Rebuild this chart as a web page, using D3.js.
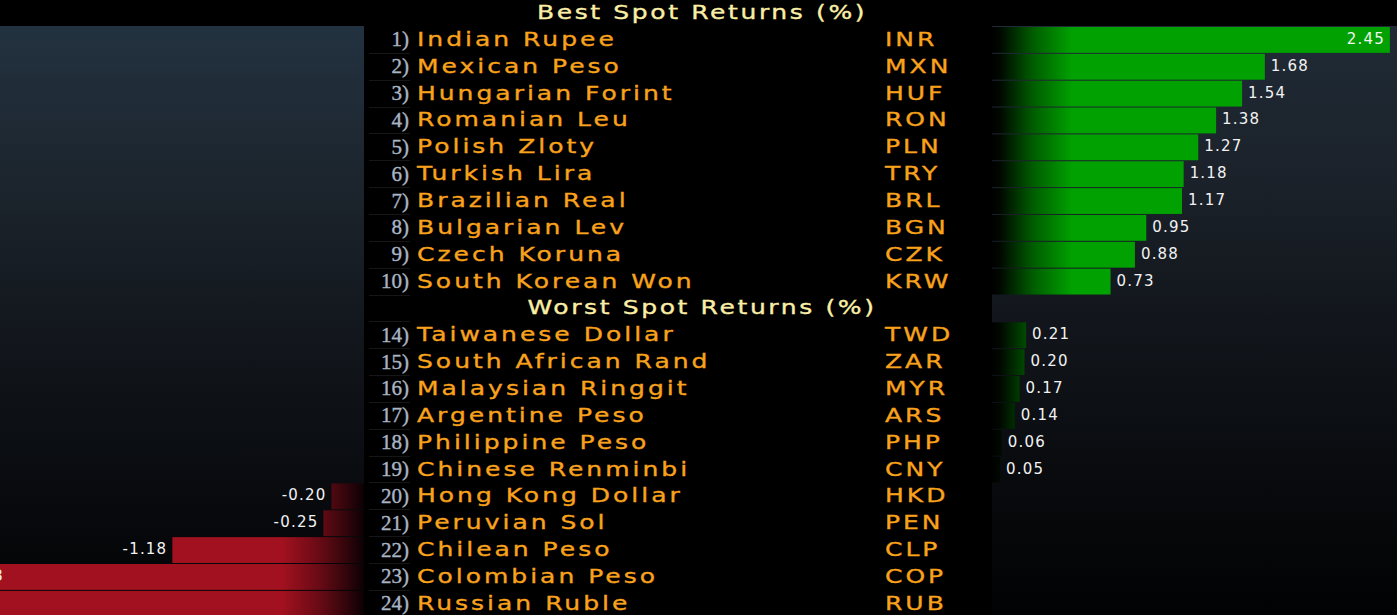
<!DOCTYPE html>
<html>
<head>
<meta charset="utf-8">
<script src="https://cdn.jsdelivr.net/npm/d3@7"></script>
<style>
  html, body { margin: 0; padding: 0; background: #000; }
  svg { display: block; }
</style>
</head>
<body>
<svg id="chart" width="1397" height="615"></svg>
<script>
// ---- data ----
const bestTitle = "Best Spot Returns (%)";
const worstTitle = "Worst Spot Returns (%)";
const bestRanks = [1, 2, 3, 4, 5, 6, 7, 8, 9, 10];
const bestNames = ["Indian Rupee", "Mexican Peso", "Hungarian Forint", "Romanian Leu", "Polish Zloty",
  "Turkish Lira", "Brazilian Real", "Bulgarian Lev", "Czech Koruna", "South Korean Won"];
const bestCodes = ["INR", "MXN", "HUF", "RON", "PLN", "TRY", "BRL", "BGN", "CZK", "KRW"];
const bestValues = [2.45, 1.68, 1.54, 1.38, 1.27, 1.18, 1.17, 0.95, 0.88, 0.73];

const worstRanks = [14, 15, 16, 17, 18, 19, 20, 21, 22, 23, 24];
const worstNames = ["Taiwanese Dollar", "South African Rand", "Malaysian Ringgit", "Argentine Peso",
  "Philippine Peso", "Chinese Renminbi", "Hong Kong Dollar", "Peruvian Sol", "Chilean Peso",
  "Colombian Peso", "Russian Ruble"];
const worstCodes = ["TWD", "ZAR", "MYR", "ARS", "PHP", "CNY", "HKD", "PEN", "CLP", "COP", "RUB"];
const worstValues = [0.21, 0.20, 0.17, 0.14, 0.06, 0.05, -0.20, -0.25, -1.18, -2.53, -3.21];

// ---- build rows ----
const rows = [];
rows.push({ key: "h-best", header: bestTitle });
bestRanks.forEach((r, i) => rows.push({ key: "b" + i, rank: r, name: bestNames[i], code: bestCodes[i], value: bestValues[i] }));
rows.push({ key: "h-worst", header: worstTitle });
worstRanks.forEach((r, i) => rows.push({ key: "w" + i, rank: r, name: worstNames[i], code: worstCodes[i], value: worstValues[i] }));

const W = 1397, H = 615;
const top0 = 26, pitch = 26.85;
const listRows = rows.slice(1);
const SX = 1.25; // horizontal stretch of the wide terminal-like font

const svg = d3.select("#chart");

const y = d3.scaleBand()
  .domain(listRows.map(d => d.key))
  .range([top0, top0 + pitch * listRows.length])
  .padding(0);

const leftZero = 364, rightZero = 992;
const mag = d3.scaleLinear().domain([0, 2.5]).range([0, 406]);
const xR = v => rightZero + mag(v);
const xL = v => leftZero - mag(-v);

// ---- defs ----
const defs = svg.append("defs");
const pg = defs.append("linearGradient").attr("id", "panelGrad")
  .attr("gradientUnits", "userSpaceOnUse").attr("x1", 0).attr("x2", 0).attr("y1", top0).attr("y2", H);
[[0, "#233240"], [0.3, "#1b232b"], [0.5, "#13181e"], [0.78, "#090b0f"], [1, "#010203"]]
  .forEach(s => pg.append("stop").attr("offset", s[0]).attr("stop-color", s[1]));
const pg2 = defs.append("linearGradient").attr("id", "panelGrad2")
  .attr("gradientUnits", "userSpaceOnUse").attr("x1", 0).attr("x2", 0).attr("y1", top0).attr("y2", H);
[[0, "#202b36"], [0.3, "#1a2028"], [0.5, "#12161c"], [0.78, "#080a0d"], [1, "#010203"]]
  .forEach(s => pg2.append("stop").attr("offset", s[0]).attr("stop-color", s[1]));

const gg = defs.append("linearGradient").attr("id", "greenGrad")
  .attr("gradientUnits", "userSpaceOnUse").attr("x1", rightZero).attr("x2", rightZero + 80).attr("y1", 0).attr("y2", 0);
[[0, "#000000"], [0.1, "#000800"], [0.5, "#005a00"], [1, "#00a100"]]
  .forEach(s => gg.append("stop").attr("offset", s[0]).attr("stop-color", s[1]));
const rg = defs.append("linearGradient").attr("id", "redGrad")
  .attr("gradientUnits", "userSpaceOnUse").attr("x1", leftZero).attr("x2", leftZero - 82).attr("y1", 0).attr("y2", 0);
[[0, "#0a0104"], [0.15, "#260409"], [0.5, "#620a14"], [1, "#a2111f"]]
  .forEach(s => rg.append("stop").attr("offset", s[0]).attr("stop-color", s[1]));

// ---- background ----
svg.append("rect").attr("width", W).attr("height", H).attr("fill", "#000");
svg.append("rect").attr("x", 0).attr("y", top0).attr("width", leftZero).attr("height", H - top0).attr("fill", "url(#panelGrad)");
svg.append("rect").attr("x", rightZero).attr("y", top0).attr("width", W - rightZero).attr("height", H - top0).attr("fill", "url(#panelGrad2)");

// faint separators in number column
svg.append("g").selectAll("line").data(listRows.slice(1)).join("line")
  .attr("x1", 369).attr("x2", 410)
  .attr("y1", d => Math.round(y(d.key)) + 0.5).attr("y2", d => Math.round(y(d.key)) + 0.5)
  .attr("stroke", "#161616").attr("stroke-width", 1);

const dataRows = listRows.filter(d => !d.header);
const pos = dataRows.filter(d => d.value > 0);
const neg = dataRows.filter(d => d.value < 0);

// bars
svg.append("g").selectAll("rect").data(pos).join("rect")
  .attr("x", rightZero)
  .attr("y", d => y(d.key) + 1)
  .attr("width", d => xR(d.value) - rightZero)
  .attr("height", y.bandwidth() - 1)
  .attr("fill", "url(#greenGrad)");
svg.append("g").selectAll("rect").data(neg).join("rect")
  .attr("x", d => xL(d.value))
  .attr("y", d => y(d.key) + 1)
  .attr("width", d => leftZero - xL(d.value))
  .attr("height", y.bandwidth() - 1)
  .attr("fill", "url(#redGrad)");

// value labels
const fmt = v => (v < 0 ? "-" : "") + Math.abs(v).toFixed(2);
const approxW = s => s.length * 9.6;
const valAttrs = sel => sel.attr("font-family", "DejaVu Sans").attr("font-size", 15)
  .attr("letter-spacing", 1.2).attr("fill", "#f2f2f2");
svg.append("g").selectAll("text").data(pos).join("text")
  .call(valAttrs)
  .attr("y", d => y(d.key) + y.bandwidth() / 2 + 4.5)
  .each(function (d) {
    const t = fmt(d.value);
    const end = xR(d.value);
    const inside = end + 6 + approxW(t) > W;
    d3.select(this).text(t)
      .attr("x", inside ? end - 5 : end + 6)
      .attr("text-anchor", inside ? "end" : "start");
  });
svg.append("g").selectAll("text").data(neg).join("text")
  .call(valAttrs)
  .attr("y", d => y(d.key) + y.bandwidth() / 2 + 4.5)
  .each(function (d) {
    const t = fmt(d.value);
    const start = xL(d.value);
    const inside = start - 6 - 48 < 0;
    d3.select(this).text(t)
      .attr("x", inside ? start + 6 : start - 5)
      .attr("text-anchor", inside ? "start" : "end");
  });

// stretched text helper
const wide = (sel, x, yy) => sel
  .attr("transform", d => `translate(${typeof x === "function" ? x(d) : x},${typeof yy === "function" ? yy(d) : yy}) scale(${SX},1)`)
  .attr("font-family", "DejaVu Sans").attr("font-size", 20);

// headers
svg.append("text").datum(0).text(bestTitle)
  .call(wide, 702, 19)
  .attr("text-anchor", "middle").attr("letter-spacing", 2.1)
  .attr("fill", "#fbefa6").attr("stroke", "#fbefa6").attr("stroke-width", 0.35);
svg.append("text").datum(0).text(worstTitle)
  .call(wide, 702, y("h-worst") + y.bandwidth() / 2 + 6.5)
  .attr("text-anchor", "middle").attr("letter-spacing", 2.1)
  .attr("fill", "#fbefa6").attr("stroke", "#fbefa6").attr("stroke-width", 0.35);

// rank labels
svg.append("g").selectAll("text").data(dataRows).join("text")
  .text(d => d.rank + ")")
  .attr("x", 409).attr("y", d => y(d.key) + y.bandwidth() / 2 + 7)
  .attr("text-anchor", "end")
  .attr("font-family", "Liberation Serif").attr("font-size", 21)
  .attr("fill", "#aab5c4").attr("stroke", "#aab5c4").attr("stroke-width", 0.4);

// names
svg.append("g").selectAll("text").data(dataRows).join("text")
  .text(d => d.name)
  .call(wide, 417, d => y(d.key) + y.bandwidth() / 2 + 6.5)
  .attr("letter-spacing", 2.4)
  .attr("fill", "#f9a21c").attr("stroke", "#f9a21c").attr("stroke-width", 0.35);

// codes
svg.append("g").selectAll("text").data(dataRows).join("text")
  .text(d => d.code)
  .call(wide, 885, d => y(d.key) + y.bandwidth() / 2 + 6.5)
  .attr("letter-spacing", 2.4)
  .attr("fill", "#f9a21c").attr("stroke", "#f9a21c").attr("stroke-width", 0.35);
</script>
</body>
</html>
